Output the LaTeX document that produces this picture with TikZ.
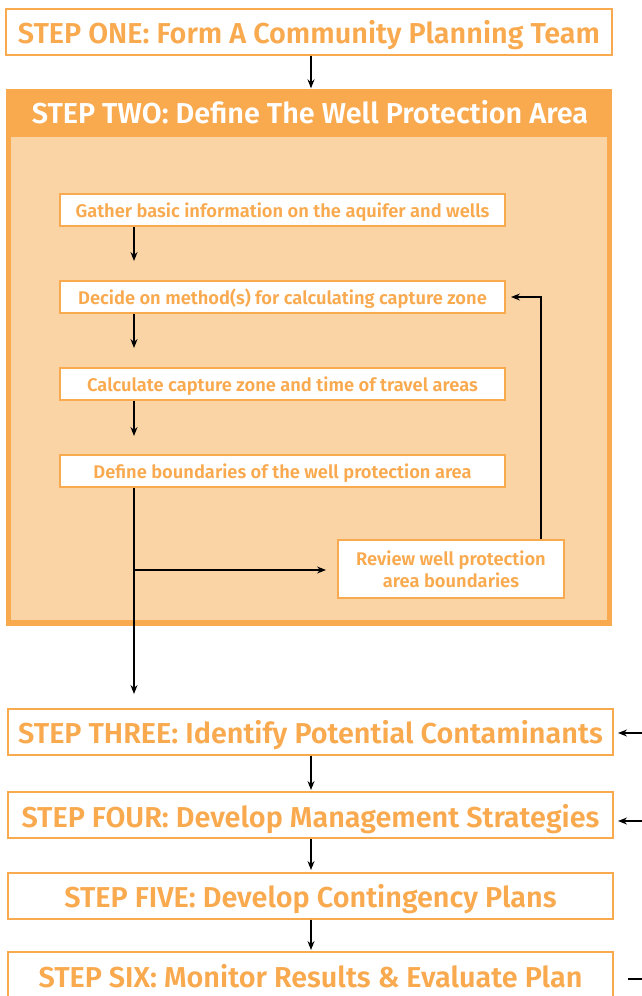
\documentclass[tikz,border=0pt]{standalone}
\usepackage{fontspec}
\setmainfont{Fira Sans}[BoldFont={Fira Sans SemiBold}]
\usetikzlibrary{arrows.meta}
\definecolor{org}{HTML}{F9A94E}
\definecolor{lightorg}{HTML}{FAD4A4}
\tikzset{
  stepbox/.style={draw=org, line width=2pt, fill=white, text=org, font=\fontsize{28.8}{32}\selectfont\bfseries, minimum width=605pt, minimum height=46pt, inner sep=0pt, text height=24pt, text depth=0pt},
  subbox/.style={draw=org, line width=2pt, fill=white, text=org, font=\fontsize{18.3}{20}\selectfont\bfseries, minimum width=445pt, minimum height=32pt, inner sep=0pt, text height=14.4pt, text depth=0pt},
  arr/.style={draw=black, line width=1.1pt, -{Stealth[length=9pt,width=7pt,inset=3pt]}},
  plain/.style={draw=black, line width=1.1pt},
}
\begin{document}
\begin{tikzpicture}[x=1pt,y=-1pt]
\useasboundingbox (0,0) rectangle (642,996);
% step one
\node[stepbox, minimum width=606pt] (s1) at (309,31.5) {STEP ONE: Form A Community Planning Team};
% step two frame
\node[fill=org, minimum width=606pt, minimum height=537pt, inner sep=0pt] (s2) at (309,357) {};
\fill[lightorg] (11,137) rectangle (607,620);
\node[text=white, font=\fontsize{28.8}{32}\selectfont\bfseries, anchor=base] (t2) at (310,123.3) {STEP TWO: Define The Well Protection Area};
\draw[arr] (s1.south -| 311,0) -- (s2.north -| 311,0);
% sub boxes
\node[subbox] (b1) at (282.5,210) {Gather basic information on the aquifer and wells};
\node[subbox] (b2) at (282.5,297) {Decide on method(s) for calculating capture zone};
\node[subbox] (b3) at (282.5,384) {Calculate capture zone and time of travel areas};
\node[subbox] (b4) at (282.5,471) {Define boundaries of the well protection area};
\node[subbox, minimum width=226pt, minimum height=58pt, align=center, text height=, text depth=, font=\fontsize{18.3}{22}\selectfont\bfseries] (rev) at (451,569) {\raisebox{-1pt}{Review well protection}\\\raisebox{-1pt}{area boundaries}};
\coordinate (c1) at (134,261);
\coordinate (c2) at (134,348);
\coordinate (c3) at (134,436);
\coordinate (j) at (134,570);
\coordinate (c4) at (134,694);
\coordinate (up) at (541,297);
\draw[arr] (b1.south -| c1) -- (c1);
\draw[arr] (b2.south -| c2) -- (c2);
\draw[arr] (b3.south -| c3) -- (c3);
\draw[arr] (b4.south -| c4) -- (c4);
\draw[arr, shorten >=11pt] (j) -- (rev.west |- j);
\draw[arr, shorten >=5pt] (rev.north -| up) -- (up) -- (b2.east);
% lower steps
\node[stepbox] (s3) at (310.5,731.5) {STEP THREE: Identify Potential Contaminants};
\node[stepbox] (s4) at (310.5,815) {STEP FOUR: Develop Management Strategies};
\node[stepbox] (s5) at (310.5,895.5) {STEP FIVE: Develop Contingency Plans};
\node[stepbox] (s6) at (310.5,975) {STEP SIX: Monitor Results \& Evaluate Plan};
\coordinate (k3) at (311,790);
\coordinate (k4) at (311,870);
\coordinate (k5) at (311,950);
\draw[arr] (s3.south -| k3) -- (k3);
\draw[arr] (s4.south -| k4) -- (k4);
\draw[arr] (s5.south -| k5) -- (k5);
\coordinate (r3) at (642,733);
\coordinate (r4) at (642,821);
\coordinate (r6) at (642,979);
\draw[arr, shorten >=4pt] (r3) -- (s3.east |- r3);
\draw[arr, shorten >=4pt] (r4) -- (s4.east |- r4);
\draw[plain, shorten >=14pt] (r6) -- (s6.east |- r6);
\end{tikzpicture}
\end{document}
